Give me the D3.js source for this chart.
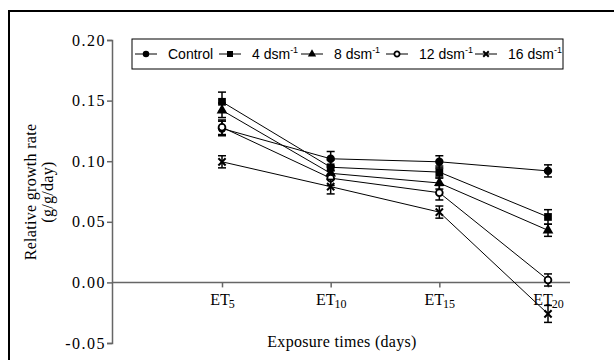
<!DOCTYPE html>
<html>
<head>
<meta charset="utf-8">
<script src="https://cdn.jsdelivr.net/npm/d3@7"></script>
<style>
html, body { margin: 0; background: #fff; overflow: hidden; }
svg { display: block; }
</style>
</head>
<body>
<div class="content"></div>
<script>
var width = 614;
var height = 360;

// chart values
var categories = ["5", "10", "15", "20"];
var seriesNames = ["Control", "4", "8", "12", "16"];
var control = [0.127, 0.102, 0.0995, 0.092];
var ds4 = [0.149, 0.095, 0.091, 0.054];
var ds8 = [0.142, 0.090, 0.082, 0.043];
var ds12 = [0.128, 0.086, 0.074, 0.002];
var ds16 = [0.0995, 0.079, 0.058, -0.026];
var errControl = [0.006, 0.006, 0.005, 0.005];
var err4 = [0.008, 0.006, 0.005, 0.006];
var err8 = [0.006, 0.005, 0.005, 0.005];
var err12 = [0.006, 0.006, 0.006, 0.005];
var err16 = [0.005, 0.006, 0.005, 0.007];
var yTicks = [-0.05, 0, 0.05, 0.10, 0.15, 0.20];

var series = [
  {name: seriesNames[0], values: control, err: errControl, sym: "circle"},
  {name: seriesNames[1], values: ds4, err: err4, sym: "square"},
  {name: seriesNames[2], values: ds8, err: err8, sym: "triangle"},
  {name: seriesNames[3], values: ds12, err: err12, sym: "open"},
  {name: seriesNames[4], values: ds16, err: err16, sym: "times"}
];

var serif = "'Liberation Serif', 'Times New Roman', serif";
var sans = "'Liberation Sans', Arial, sans-serif";

var svg = d3.select(".content").append("svg").attr("width", width).attr("height", height);

// outer frame (left and top edges show)
svg.append("path").attr("d", "M9," + height + "V11H" + width)
  .attr("fill", "none").attr("stroke", "black").attr("stroke-width", 2);

var x = d3.scalePoint().domain(categories).range([222, 548]);
var y = d3.scaleLinear().domain([-0.05, 0.20]).range([343, 40]);

var axisCol = "#666";
var fmt = d3.format(".2f");

// y axis
var gy = svg.append("g").attr("transform", "translate(112,0)")
  .call(d3.axisLeft(y).tickValues(yTicks).tickFormat(function(d) { return fmt(d).replace("\u2212", "-"); })
    .tickSizeOuter(0).tickSize(5));
gy.attr("font-family", null).attr("font-size", null);
gy.select(".domain").attr("stroke", axisCol).attr("stroke-width", 1.5);
gy.selectAll(".tick line").attr("stroke", axisCol).attr("stroke-width", 1.5);
gy.selectAll(".tick text").style("font-family", serif)
  .style("font-size", "16px").style("letter-spacing", "1.5px").attr("fill", "#000").attr("x", -6);

// x axis at zero
var gx = svg.append("g").attr("transform", "translate(0," + y(0) + ")")
  .call(d3.axisBottom(x).tickSize(5).tickSizeOuter(0));
gx.attr("font-family", null).attr("font-size", null);
gx.select(".domain").remove();
gx.insert("line", ":first-child").attr("x1", 112).attr("x2", 570).attr("y1", 0).attr("y2", 0)
  .attr("stroke", axisCol).attr("stroke-width", 1.5);
gx.selectAll(".tick line").attr("stroke", axisCol).attr("stroke-width", 1.5);
gx.selectAll(".tick text").each(function(d) {
  var t = d3.select(this).text("").attr("y", 11).attr("dy", "0.71em")
    .style("font-family", serif).style("font-size", "16px").attr("fill", "#000");
  t.append("tspan").text("ET");
  t.append("tspan").style("font-size", "12px").attr("dx", -1).attr("dy", "0.3em").text(d);
});

// axis titles
svg.append("text").attr("x", 342).attr("y", 347).attr("text-anchor", "middle")
  .style("font-family", serif).style("font-size", "16px").style("letter-spacing", "0.3px")
  .text("Exposure times (days)");
var yt = svg.append("text").attr("transform", "translate(36,192) rotate(-90)").attr("text-anchor", "middle")
  .style("font-family", serif).style("font-size", "16px").style("letter-spacing", "0.3px");
yt.append("tspan").attr("x", 0).attr("dy", 0).text("Relative growth rate");
yt.append("tspan").attr("x", 0).attr("dy", 17).text("(g/g/day)");

function drawMarker(g, sym, scale) {
  scale = scale || 1;
  if (sym === "circle") {
    g.append("path").attr("d", d3.symbol(d3.symbolCircle, 55 * scale)()).attr("fill", "black");
  } else if (sym === "square") {
    g.append("path").attr("d", d3.symbol(d3.symbolSquare, 60 * scale)()).attr("fill", "black");
  } else if (sym === "triangle") {
    g.append("path").attr("d", d3.symbol(d3.symbolTriangle, 50 * scale)()).attr("fill", "black");
  } else if (sym === "open") {
    g.append("path").attr("d", d3.symbol(d3.symbolCircle, 36 * scale)()).attr("fill", "white")
      .attr("stroke", "black").attr("stroke-width", 1.8);
  } else {
    g.append("path").attr("d", d3.symbol(d3.symbolTimes, 36 * scale)()).attr("fill", "none")
      .attr("stroke", "black").attr("stroke-width", 2);
  }
}

var line = d3.line().x(function(d, i) { return x(categories[i]); }).y(function(d) { return y(d); });

series.forEach(function(s) {
  svg.append("path").datum(s.values).attr("d", line).attr("fill", "none")
    .attr("stroke", "black").attr("stroke-width", 1);
});

series.forEach(function(s) {
  s.values.forEach(function(v, i) {
    var cx = x(categories[i]);
    var g = svg.append("g");
    var top = y(v + s.err[i]), bot = y(v - s.err[i]);
    g.append("line").attr("x1", cx).attr("x2", cx).attr("y1", top).attr("y2", bot)
      .attr("stroke", "black").attr("stroke-width", 1.5);
    [top, bot].forEach(function(yy) {
      g.append("line").attr("x1", cx - 4).attr("x2", cx + 4).attr("y1", yy).attr("y2", yy)
        .attr("stroke", "black").attr("stroke-width", 1.5);
    });
    var m = g.append("g").attr("transform", "translate(" + cx + "," + y(v) + ")");
    drawMarker(m, s.sym);
  });
});

// legend
var leg = svg.append("g");
leg.append("rect").attr("x", 132).attr("y", 39).attr("width", 431).attr("height", 30)
  .attr("fill", "white").attr("stroke", "black").attr("stroke-width", 1);
var legX = [135, 219, 301, 386, 475];
series.forEach(function(s, i) {
  var lx = legX[i];
  leg.append("line").attr("x1", lx).attr("x2", lx + 22).attr("y1", 54).attr("y2", 54)
    .attr("stroke", "black").attr("stroke-width", 1);
  var m = leg.append("g").attr("transform", "translate(" + (lx + 11) + ",54)");
  drawMarker(m, s.sym, 0.6);
  var t = leg.append("text").attr("x", lx + 33).attr("y", 59)
    .style("font-family", sans).style("font-size", "14px");
  if (i === 0) {
    t.text(s.name);
  } else {
    t.append("tspan").text(s.name + " dsm");
    t.append("tspan").style("font-size", "9px").attr("dy", -6).text("-1");
  }
});
</script>
</body>
</html>
